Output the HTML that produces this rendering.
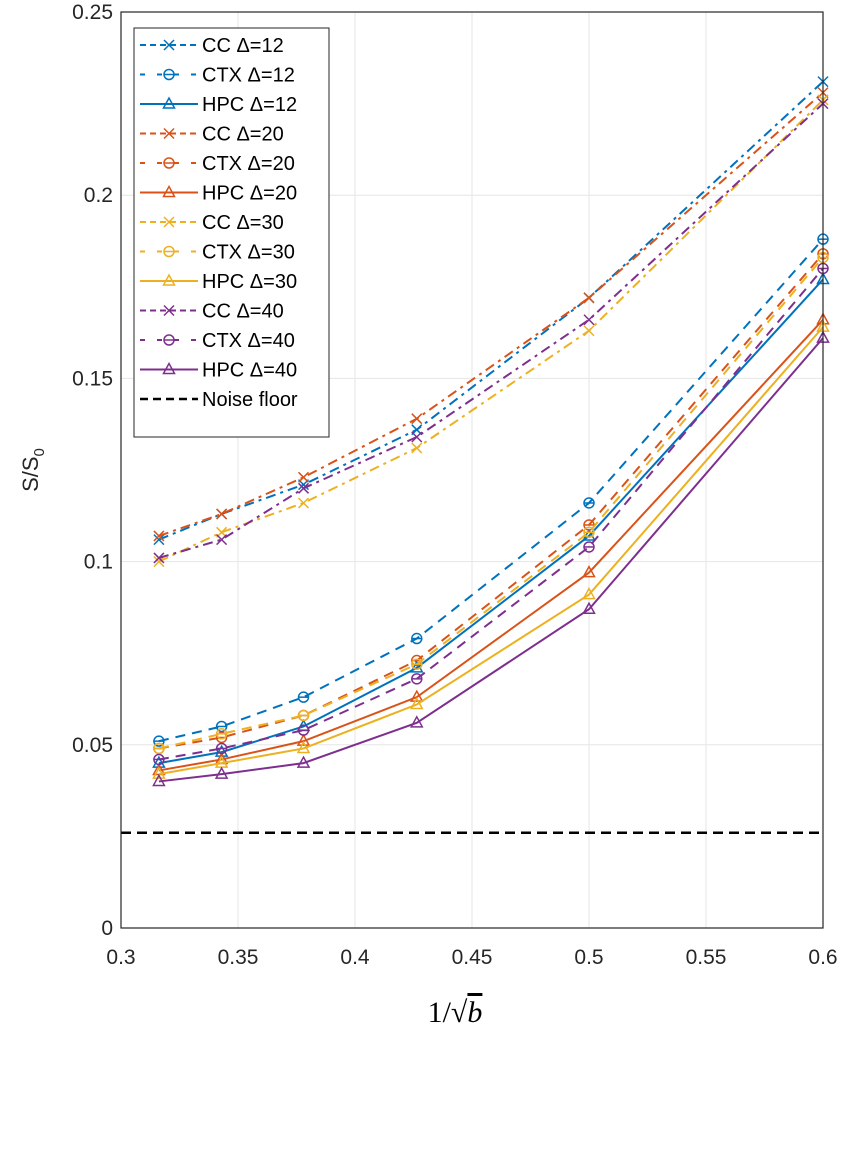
<!DOCTYPE html>
<html><head><meta charset="utf-8"><style>
body{margin:0;background:#fff;}
svg text{font-family:"Liberation Sans",sans-serif;}
</style></head><body>
<svg id="chart" width="852" height="1148" xmlns="http://www.w3.org/2000/svg"></svg>
<script>
const xVals=[0.3162,0.3430,0.3780,0.4264,0.5,0.6];
const seriesNames=["CC Δ=12","CTX Δ=12","HPC Δ=12","CC Δ=20","CTX Δ=20","HPC Δ=20","CC Δ=30","CTX Δ=30","HPC Δ=30","CC Δ=40","CTX Δ=40","HPC Δ=40"];
const cc12=[0.106,0.113,0.121,0.136,0.172,0.231];
const ctx12=[0.051,0.055,0.063,0.079,0.116,0.188];
const hpc12=[0.045,0.048,0.055,0.071,0.107,0.177];
const cc20=[0.107,0.113,0.123,0.139,0.172,0.228];
const ctx20=[0.049,0.052,0.058,0.073,0.110,0.184];
const hpc20=[0.043,0.046,0.051,0.063,0.097,0.166];
const cc30=[0.100,0.108,0.116,0.131,0.163,0.226];
const ctx30=[0.049,0.053,0.058,0.072,0.108,0.183];
const hpc30=[0.042,0.045,0.049,0.061,0.091,0.164];
const cc40=[0.101,0.106,0.120,0.134,0.166,0.225];
const ctx40=[0.046,0.049,0.054,0.068,0.104,0.180];
const hpc40=[0.040,0.042,0.045,0.056,0.087,0.161];
const noiseFloor=0.026;
const xTicks=[0.3,0.35,0.4,0.45,0.5,0.55,0.6];
const xTickLabels=["0.3","0.35","0.4","0.45","0.5","0.55","0.6"];
const yTicks=[0,0.05,0.1,0.15,0.2,0.25];
const yTickLabels=["0","0.05","0.1","0.15","0.2","0.25"];

const allSeries=[cc12,ctx12,hpc12,cc20,ctx20,hpc20,cc30,ctx30,hpc30,cc40,ctx40,hpc40];
const colors=["#0072BD","#D95319","#EDB120","#7E2F8E"];
const L=121,R=823,T=12,B=928;
const sx=v=>L+(v-0.3)/0.3*(R-L);
const sy=v=>B-v/0.25*(B-T);
const svg=document.getElementById('chart');
const NS="http://www.w3.org/2000/svg";
function mk(tag,attrs,parent){const e=document.createElementNS(NS,tag);for(const k in attrs)e.setAttribute(k,attrs[k]);(parent||svg).appendChild(e);return e;}

// grid
xTicks.forEach((t,i)=>{
  const g=mk('line',{x1:sx(t),x2:sx(t),y1:T,y2:B,stroke:'#e6e6e6','stroke-width':1});
  
  
  const tk=mk('text',{x:sx(t),y:B+36,'text-anchor':'middle','font-size':21,fill:'#262626'});
  tk.textContent=xTickLabels[i];
  
  
});
yTicks.forEach((t,i)=>{
  const g=mk('line',{x1:L,x2:R,y1:sy(t),y2:sy(t),stroke:'#e6e6e6','stroke-width':1});
  
  
  const tk=mk('text',{x:L-8,y:sy(t)+7,'text-anchor':'end','font-size':21,fill:'#262626'});
  tk.textContent=yTickLabels[i];
  
  
});

function dashFor(type){return type===0?'10,5,3,5':(type===1?'10,7':'none');}
function marker(type,x,y,c,parent){
  if(type===0){mk('path',{d:`M${x-5},${y-5}L${x+5},${y+5}M${x-5},${y+5}L${x+5},${y-5}`,stroke:c,'stroke-width':1.5,fill:'none'},parent);}
  else if(type===1){mk('circle',{cx:x,cy:y,r:5,stroke:c,'stroke-width':1.5,fill:'none'},parent);mk('line',{x1:x-5,x2:x+5,y1:y,y2:y,stroke:c,'stroke-width':1.5},parent);}
  else{mk('path',{d:`M${x},${y-6}L${x+5.5},${y+4}L${x-5.5},${y+4}Z`,stroke:c,'stroke-width':1.5,fill:'none'},parent);}
}

// noise floor
const nf=mk('line',{x1:L,x2:R,y1:sy(noiseFloor),y2:sy(noiseFloor),stroke:'#000','stroke-width':2.5,'stroke-dasharray':'10,6'});



allSeries.forEach((s,i)=>{
  const c=colors[Math.floor(i/3)],type=i%3;
  const g=mk('g',{});
  
  
  const pts=s.map((v,j)=>sx(xVals[j])+','+sy(v)).join(' ');
  const a={points:pts,fill:'none',stroke:c,'stroke-width':2};
  if(type!==2)a['stroke-dasharray']=dashFor(type);
  mk('polyline',a,g);
  s.forEach((v,j)=>marker(type,sx(xVals[j]),sy(v),c,g));
});

// axes box
const box=mk('rect',{x:L,y:T,width:R-L,height:B-T,fill:'none',stroke:'#262626','stroke-width':1.2});



// legend
const lg=mk('g',{});


mk('rect',{x:134,y:28,width:195,height:409,fill:'#fff',stroke:'#262626','stroke-width':1},lg);
const labels=seriesNames.concat(['Noise floor']);
labels.forEach((n,i)=>{
  const y=45+i*29.5;
  const e=mk('g',{},lg);
  
  
  if(i<12){
    const c=colors[Math.floor(i/3)],type=i%3;
    const a={x1:140,x2:198,y1:y,y2:y,stroke:c,'stroke-width':2};
    if(type!==2)a['stroke-dasharray']=type===0?'6,4':'5,12';
    mk('line',a,e);marker(type,169,y,c,e);
  }else{
    mk('line',{x1:140,x2:198,y1:y,y2:y,stroke:'#000','stroke-width':2.5,'stroke-dasharray':'8,5'},e);
  }
  const t=mk('text',{x:202,y:y+7,'font-size':20,fill:'#000'},e);t.textContent=n;
});

// axis titles
const yl=mk('text',{x:38,y:470,'font-size':22,fill:'#262626','text-anchor':'middle',transform:'rotate(-90 38 470)'});
yl.innerHTML='S/S<tspan dy="6" font-size="15">0</tspan>';


const xl=mk('text',{x:455,y:1022,'font-size':30,fill:'#000','text-anchor':'middle'});
xl.setAttribute('style','font-family:"Liberation Serif",serif');
xl.innerHTML='1/√<tspan text-decoration="overline" font-style="italic">b</tspan>';


</script>
</body></html>
